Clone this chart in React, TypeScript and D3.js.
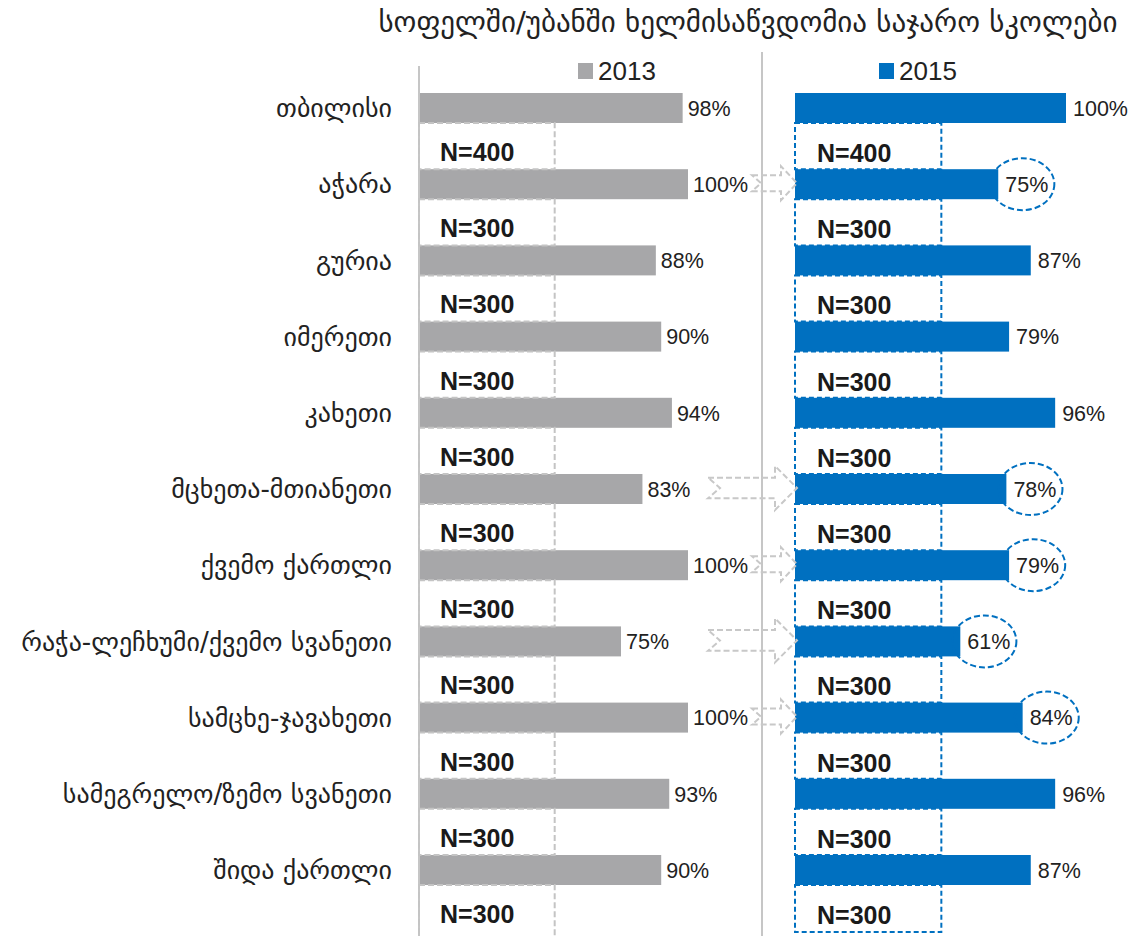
import React from 'react';
import * as d3 from 'd3';

const title = 'სოფელში/უბანში ხელმისაწვდომია საჯარო სკოლები';
const categories = [
  'თბილისი',
  'აჭარა',
  'გურია',
  'იმერეთი',
  'კახეთი',
  'მცხეთა-მთიანეთი',
  'ქვემო ქართლი',
  'რაჭა-ლეჩხუმი/ქვემო სვანეთი',
  'სამცხე-ჯავახეთი',
  'სამეგრელო/ზემო სვანეთი',
  'შიდა ქართლი',
];
const values2013 = [98, 100, 88, 90, 94, 83, 100, 75, 100, 93, 90];
const values2015 = [100, 75, 87, 79, 96, 78, 79, 61, 84, 96, 87];
const sampleSizes = ['N=400', 'N=300', 'N=300', 'N=300', 'N=300', 'N=300', 'N=300', 'N=300', 'N=300', 'N=300', 'N=300'];
const highlighted = [false, true, false, false, false, true, true, true, true, false, false];
const seriesNames = ['2013', '2015'];

const W = 1139;
const H = 936;
const GRAY = '#a7a7a9';
const BLUE = '#0070c0';
const BAR_H = 30;
const GEO = '"DejaVu Sans", sans-serif';
const LAT = '"Liberation Sans", Arial, sans-serif';

function arrowPath(x0: number, x1: number, cy: number) {
  const len = x1 - x0;
  const hh = len > 60 ? 22 : 17;
  const sh = hh * 0.47;
  const hl = len > 60 ? 22 : 16;
  const notch = len > 60 ? 12 : 9;
  const xh = x1 - hl;
  return [
    [x0, cy - sh],
    [xh, cy - sh],
    [xh, cy - hh],
    [x1, cy],
    [xh, cy + hh],
    [xh, cy + sh],
    [x0, cy + sh],
    [x0 + notch, cy],
  ]
    .map((p, i) => (i === 0 ? 'M' : 'L') + p[0] + ',' + p[1])
    .join('') + 'Z';
}

export default function App() {
  const y = d3.scalePoint<string>().domain(categories).range([108, 870]);
  const xL = d3.scaleLinear().domain([0, 100]).range([420, 688]);
  const xR = d3.scaleLinear().domain([0, 100]).range([795, 1066]);
  const boxWL = xL(51) - xL(0);
  const boxWR = xR(54) - xR(0);

  return (
    <svg width={W} height={H} style={{ position: 'absolute', left: 0, top: 0, display: 'block' }}>
      <rect x={0} y={0} width={W} height={H} fill="#fff" />
      <text x={748} y={32} textAnchor="middle" fontFamily={GEO} fontSize={29} fill="#222">
        {title}
      </text>
      {/* legend */}
      <rect x={578} y={63} width={15} height={16} fill={GRAY} />
      <text x={598} y={80} fontFamily={LAT} fontSize={26} fill="#222">{seriesNames[0]}</text>
      <rect x={879} y={63} width={15} height={16} fill={BLUE} />
      <text x={899} y={80} fontFamily={LAT} fontSize={26} fill="#222">{seriesNames[1]}</text>
      {/* axis lines */}
      <line x1={419} x2={419} y1={66} y2={H} stroke="#c6c6c6" strokeWidth={2} />
      <line x1={762} x2={762} y1={52} y2={H} stroke="#c6c6c6" strokeWidth={2} />

      {categories.map((c, i) => {
        const cy = y(c)!;
        return (
          <g key={c}>
            <text x={392} y={cy} dy="0.35em" textAnchor="end" fontFamily={GEO} fontSize={26} fill="#222">
              {c}
            </text>
            <rect x={xL(0)} y={cy - BAR_H / 2} width={xL(values2013[i]) - xL(0)} height={BAR_H} fill={GRAY} />
            <rect x={xR(0)} y={cy - BAR_H / 2} width={xR(values2015[i]) - xR(0)} height={BAR_H} fill={BLUE} />
          </g>
        );
      })}

      {categories.map((c, i) => {
        const cy = y(c)!;
        const top = cy + BAR_H / 2;
        const last = i === categories.length - 1;
        const hL = last ? 60 : 76.2 - BAR_H;
        const hR = last ? 47 : 76.2 - BAR_H;
        return (
          <g key={'box' + c}>
            <rect x={419} y={top} width={boxWL - 1} height={hL} fill="none" stroke="#c4c4c4" strokeWidth={2} strokeDasharray="6,3" />
            <rect x={xR(0)} y={top} width={boxWR} height={hR} fill="none" stroke={BLUE} strokeWidth={2} strokeDasharray="5,3" />
            <text x={440} y={cy + 44} dy="0.36em" fontFamily={LAT} fontWeight="bold" fontSize={25} fill="#1a1a1a">
              {sampleSizes[i]}
            </text>
            <text x={817} y={cy + 45} dy="0.36em" fontFamily={LAT} fontWeight="bold" fontSize={25} fill="#1a1a1a">
              {sampleSizes[i]}
            </text>
          </g>
        );
      })}

      {categories.map((c, i) => {
        const cy = y(c)!;
        const lx = xL(values2013[i]) + 5;
        const rx = xR(values2015[i]) + 7;
        const txt = values2015[i] + '%';
        const tw = txt.length * 11.4;
        return (
          <g key={'lab' + c}>
            <text x={lx} y={cy} dy="0.36em" fontFamily={LAT} fontSize={21.5} fill="#222">
              {values2013[i]}%
            </text>
            <text x={rx} y={cy} dy="0.36em" fontFamily={LAT} fontSize={21.5} fill="#222">
              {txt}
            </text>
            {highlighted[i] && (
              <>
                <ellipse cx={rx + tw / 2} cy={cy} rx={32} ry={26} fill="none" stroke={BLUE} strokeWidth={2} strokeDasharray="6,3" />
                <path
                  d={arrowPath(Math.max(xL(values2013[i]) + 64, 708), xR(0) + 2, cy - 1)}
                  fill="none"
                  stroke="#c8c8c8"
                  strokeWidth={2}
                  strokeDasharray="6,3"
                />
              </>
            )}
          </g>
        );
      })}
    </svg>
  );
}
